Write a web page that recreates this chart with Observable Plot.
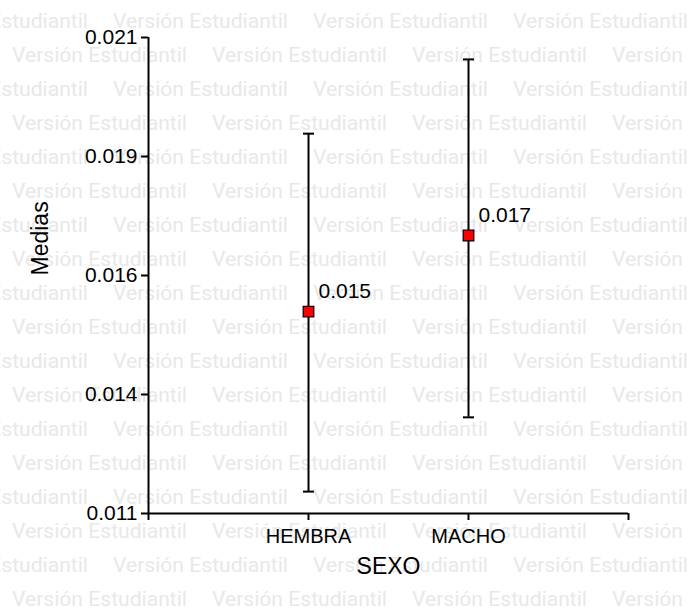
<!DOCTYPE html>
<html>
<head>
<meta charset="utf-8">
<script src="https://cdn.jsdelivr.net/npm/d3@7"></script>
<script src="https://cdn.jsdelivr.net/npm/@observablehq/plot@0.6"></script>
<style>
  html, body { margin: 0; padding: 0; background: white; }
  #wrap { position: relative; width: 688px; height: 610px; overflow: hidden; }
  #wm, #chart { position: absolute; left: 0; top: 0; }
</style>
</head>
<body>
<div id="wrap"><div id="wm"></div><div id="chart"></div></div>
<script>
const categories = ["HEMBRA", "MACHO"];
const means = [0.01524, 0.01684];
const lower = [0.01146, 0.01302];
const upper = [0.01898, 0.02054];
const meanLabels = ["0.015", "0.017"];
const yTicks = [0.011, 0.0135, 0.016, 0.0185, 0.021];
const yTickLabels = ["0.011", "0.014", "0.016", "0.019", "0.021"];
const xTicks = [0, 1, 2, 3];
const watermark = "Versión Estudiantil";

const data = categories.map((c, i) => ({
  cat: c, x: i + 1, mean: means[i], lo: lower[i], hi: upper[i], label: meanLabels[i]
}));

// watermark background
const W = 688, H = 610;
const wm = d3.select("#wm").append("svg").attr("width", W).attr("height", H);
for (let k = 0; k < 18; k++) {
  const y = 28 + 34 * k;
  let x0 = (k % 2 === 0) ? -87 : 12;
  for (let x = x0; x < W; x += 200) {
    wm.append("text")
      .attr("x", x).attr("y", y)
      .attr("font-family", "Roboto, 'Open Sans', sans-serif")
      .attr("font-size", 20)
      .attr("fill", "#e8e8e8")
      .attr("textLength", 175)
      .attr("lengthAdjust", "spacingAndGlyphs")
      .text(watermark);
  }
}

const capSymbol = {
  draw(context, size) {
    const w = Math.sqrt(size / Math.PI);
    context.moveTo(-w, 0);
    context.lineTo(w, 0);
  }
};

const chart = Plot.plot({
  width: W,
  height: H,
  marginLeft: 148,
  marginRight: 60,
  marginTop: 37,
  marginBottom: 97,
  style: { background: "transparent", fontFamily: "'Liberation Sans', Arial, sans-serif", color: "black" },
  x: { domain: [0, 3] },
  y: { domain: [0.011, 0.021] },
  marks: [
    Plot.axisY({ ticks: yTicks, tickFormat: (d, i) => yTickLabels[i], tickSize: 7, tickPadding: 4, fontSize: 21, strokeWidth: 2, label: null }),
    Plot.axisX({ ticks: xTicks, tickFormat: d => categories[d - 1] ?? "", tickSize: 7, tickPadding: 8, fontSize: 20, strokeWidth: 2, label: null }),
    Plot.ruleX([0], { strokeWidth: 2 }),
    Plot.ruleY([0.011], { strokeWidth: 2 }),
    Plot.ruleX(data, { x: "x", y1: "lo", y2: "hi", strokeWidth: 2, stroke: "black" }),
    Plot.dot(data, { x: "x", y: "hi", symbol: capSymbol, r: 5.5, stroke: "black", strokeWidth: 2 }),
    Plot.dot(data, { x: "x", y: "lo", symbol: capSymbol, r: 5.5, stroke: "black", strokeWidth: 2 }),
    Plot.dot(data, { x: "x", y: "mean", symbol: "square", r: 6, fill: "#ff0000", stroke: "black", strokeWidth: 1.2 }),
    Plot.text(data, { x: "x", y: "mean", text: "label", dx: 10, dy: -20, textAnchor: "start", fontSize: 21, fill: "black" }),
    Plot.text(["Medias"], { frameAnchor: "left", dx: -108, rotate: -90, fontSize: 23, fill: "black" }),
    Plot.text(["SEXO"], { frameAnchor: "bottom", dy: 60, fontSize: 23, fill: "black" })
  ]
});
document.getElementById("chart").appendChild(chart);
</script>
</body>
</html>
